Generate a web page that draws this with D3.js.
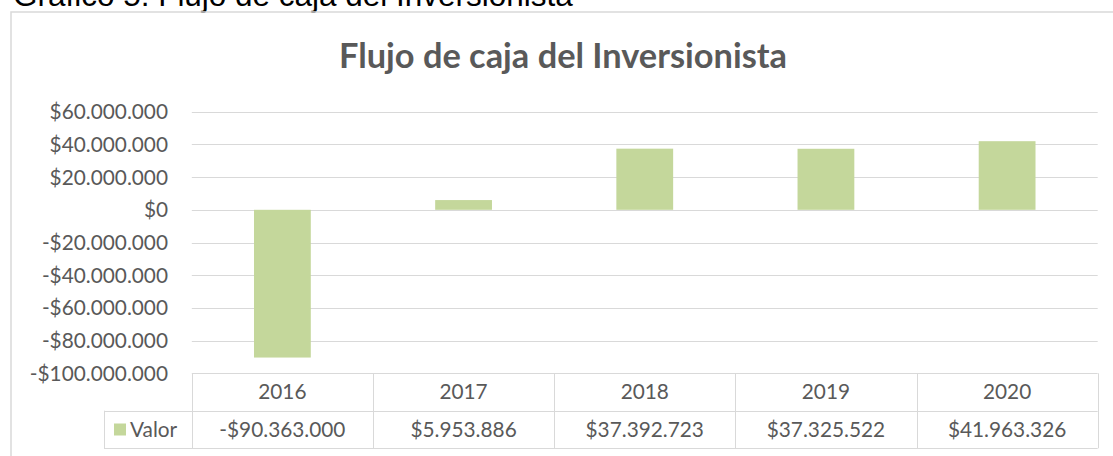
<!DOCTYPE html>
<html>
<head>
<meta charset="utf-8">
<script src="https://cdnjs.cloudflare.com/ajax/libs/d3/7.8.5/d3.min.js"></script>
<style>
  body { margin: 0; background: #fff; }
  text { font-family: Lato, "Open Sans", sans-serif; fill: #595959; }
</style>
</head>
<body>
<div id="chart"></div>
<script>

/////////////////////
// Data
/////////////////////

var years = ["2016", "2017", "2018", "2019", "2020"];
var valores = [-90363000, 5953886, 37392723, 37325522, 41963326];
var yTicks = [60000000, 40000000, 20000000, 0, -20000000, -40000000, -60000000, -80000000, -100000000];
var serieName = "Valor";

/////////////////////
// Setup
/////////////////////

var width = 1113,
    height = 456,
    labelSize = "20.8px";

var locale = d3.formatLocale({
    decimal: ",",
    thousands: ".",
    grouping: [3],
    currency: ["$", ""],
    minus: "-"
});
var formatPeso = locale.format("$,.0f");

var data = years.map(function(y, i) { return {year: y, value: valores[i]}; });

var svg = d3.select("#chart").append("svg")
    .attr("width", width)
    .attr("height", height);

// fit a text element to a given width
function fitText(sel, target) {
    var w = sel.node().getComputedTextLength();
    var fs = parseFloat(sel.style("font-size"));
    sel.style("font-size", (fs * target / w) + "px");
}

// Caption above the chart box

var caption = svg.append("text")
    .attr("x", 13)
    .attr("y", 6)
    .style("font-family", "'Liberation Sans', Arial, sans-serif")
    .style("font-size", "24px")
    .style("fill", "#000")
    .text("Gráfico 5: Flujo de caja del Inversionista");
fitText(caption, 560);

// Chart area border

svg.append("rect")
    .attr("x", 11)
    .attr("y", 12)
    .attr("width", 1120)
    .attr("height", 460)
    .attr("fill", "none")
    .attr("stroke", "#d9d9d9")
    .attr("stroke-width", 1.5);

// Title

var title = svg.append("text")
    .attr("x", 563)
    .attr("y", 68)
    .attr("text-anchor", "middle")
    .style("font-size", "30px")
    .style("font-weight", "bold")
    .text("Flujo de caja del Inversionista");
fitText(title, 448);

/////////////////////
// Scales
/////////////////////

var x = d3.scaleBand()
    .domain(years)
    .range([191.8, 1097.7])
    .paddingInner(0)
    .paddingOuter(0);

var y = d3.scaleLinear()
    .domain([-100000000, 60000000])
    .range([373.3, 111.7]);

var barW = x.bandwidth() / (1 + 2.19);

/////////////////////
// Gridlines and axis labels
/////////////////////

svg.append("g")
    .selectAll("line")
    .data(yTicks)
  .enter().append("line")
    .attr("x1", x.range()[0])
    .attr("x2", x.range()[1])
    .attr("y1", function(d) { return Math.round(y(d)) + 0.5; })
    .attr("y2", function(d) { return Math.round(y(d)) + 0.5; })
    .attr("stroke", "#d9d9d9")
    .attr("stroke-width", 1);

svg.append("g")
    .selectAll("text")
    .data(yTicks)
  .enter().append("text")
    .attr("x", 168)
    .attr("y", function(d) { return y(d); })
    .attr("dy", "0.36em")
    .attr("text-anchor", "end")
    .style("font-size", labelSize)
    .text(function(d) { return formatPeso(d); });

/////////////////////
// Bars
/////////////////////

svg.append("g")
    .selectAll("rect")
    .data(data)
  .enter().append("rect")
    .attr("x", function(d) { return x(d.year) + (x.bandwidth() - barW) / 2; })
    .attr("y", function(d) { return y(Math.max(0, d.value)); })
    .attr("width", barW)
    .attr("height", function(d) { return Math.abs(y(d.value) - y(0)); })
    .attr("fill", "#c4d79b");

/////////////////////
// Data table
/////////////////////

var rowTop = 373.3,
    rowMid = 410.7,
    rowBot = 448.3,
    legendLeft = 104;

var table = svg.append("g")
    .attr("stroke", "#d9d9d9")
    .attr("stroke-width", 1);

// vertical dividers
var edges = years.map(function(d) { return x(d); }).concat([x.range()[1]]);
table.selectAll(".vline")
    .data(edges)
  .enter().append("line")
    .attr("class", "vline")
    .attr("x1", function(d) { return Math.round(d) + 0.5; })
    .attr("x2", function(d) { return Math.round(d) + 0.5; })
    .attr("y1", rowTop)
    .attr("y2", rowBot);

table.append("line")
    .attr("x1", legendLeft + 0.5).attr("x2", legendLeft + 0.5)
    .attr("y1", rowMid).attr("y2", rowBot);

[rowMid, rowBot].forEach(function(yy) {
    table.append("line")
        .attr("x1", legendLeft)
        .attr("x2", x.range()[1])
        .attr("y1", Math.round(yy) + 0.5)
        .attr("y2", Math.round(yy) + 0.5);
});

// header labels
svg.append("g")
    .selectAll("text")
    .data(years)
  .enter().append("text")
    .attr("x", function(d) { return x(d) + x.bandwidth() / 2; })
    .attr("y", (rowTop + rowMid) / 2)
    .attr("dy", "0.36em")
    .attr("text-anchor", "middle")
    .style("font-size", labelSize)
    .text(function(d) { return d; });

// values
svg.append("g")
    .selectAll("text")
    .data(data)
  .enter().append("text")
    .attr("x", function(d) { return x(d.year) + x.bandwidth() / 2; })
    .attr("y", (rowMid + rowBot) / 2)
    .attr("dy", "0.36em")
    .attr("text-anchor", "middle")
    .style("font-size", labelSize)
    .text(function(d) { return formatPeso(d.value); });

// legend key
svg.append("rect")
    .attr("x", 114)
    .attr("y", 423.5)
    .attr("width", 12)
    .attr("height", 12)
    .attr("fill", "#c4d79b");

svg.append("text")
    .attr("x", 130)
    .attr("y", (rowMid + rowBot) / 2)
    .attr("dy", "0.36em")
    .style("font-size", labelSize)
    .text(serieName);

</script>
</body>
</html>
